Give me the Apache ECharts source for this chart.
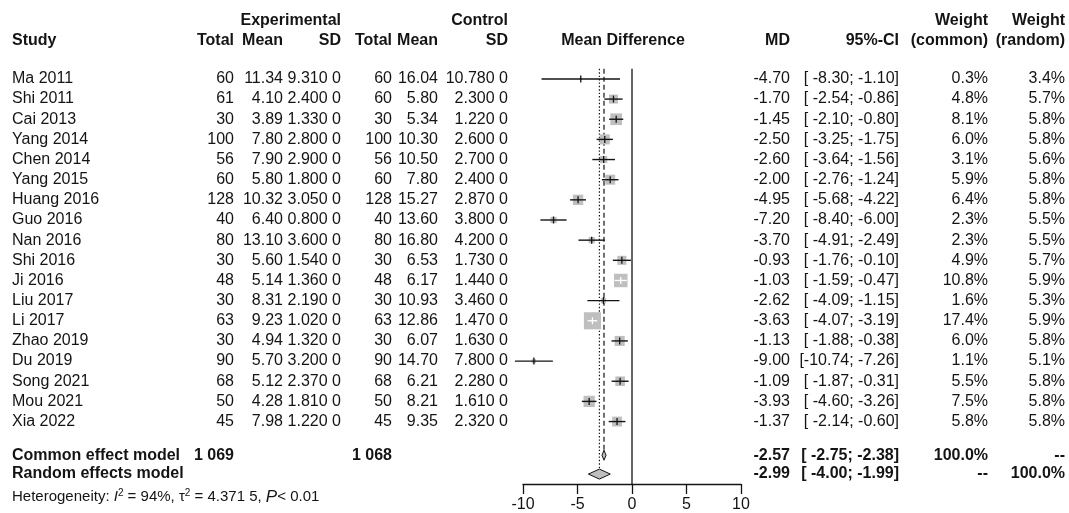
<!DOCTYPE html>
<html><head><meta charset="utf-8">
<script src="https://cdn.jsdelivr.net/npm/echarts@6/dist/echarts.min.js"></script>
<style>html,body{margin:0;padding:0;background:#fff}#c{width:1069px;height:513px}</style>
</head><body><div id="c"></div>
<script>
// ---------------- data ----------------
const studies = ['Ma 2011','Shi 2011','Cai 2013','Yang 2014','Chen 2014','Yang 2015','Huang 2016','Guo 2016','Nan 2016','Shi 2016','Ji 2016','Liu 2017','Li 2017','Zhao 2019','Du 2019','Song 2021','Mou 2021','Xia 2022'];
const expTotal = [60,61,30,100,56,60,128,40,80,30,48,30,63,30,90,68,50,45];
const expMean = [11.34,4.10,3.89,7.80,7.90,5.80,10.32,6.40,13.10,5.60,5.14,8.31,9.23,4.94,5.70,5.12,4.28,7.98];
const expSD = [9.31,2.40,1.33,2.80,2.90,1.80,3.05,0.80,3.60,1.54,1.36,2.19,1.02,1.32,3.20,2.37,1.81,1.22];
const ctlTotal = [60,60,30,100,56,60,128,40,80,30,48,30,63,30,90,68,50,45];
const ctlMean = [16.04,5.80,5.34,10.30,10.50,7.80,15.27,13.60,16.80,6.53,6.17,10.93,12.86,6.07,14.70,6.21,8.21,9.35];
const ctlSD = [10.78,2.30,1.22,2.60,2.70,2.40,2.87,3.80,4.20,1.73,1.44,3.46,1.47,1.63,7.80,2.28,1.61,2.32];
const md = [-4.70,-1.70,-1.45,-2.50,-2.60,-2.00,-4.95,-7.20,-3.70,-0.93,-1.03,-2.62,-3.63,-1.13,-9.00,-1.09,-3.93,-1.37];
const ciLow = [-8.30,-2.54,-2.10,-3.25,-3.64,-2.76,-5.68,-8.40,-4.91,-1.76,-1.59,-4.09,-4.07,-1.88,-10.74,-1.87,-4.60,-2.14];
const ciHigh = [-1.10,-0.86,-0.80,-1.75,-1.56,-1.24,-4.22,-6.00,-2.49,-0.10,-0.47,-1.15,-3.19,-0.38,-7.26,-0.31,-3.26,-0.60];
const wCommon = [0.3,4.8,8.1,6.0,3.1,5.9,6.4,2.3,2.3,4.9,10.8,1.6,17.4,6.0,1.1,5.5,7.5,5.8];
const wRandom = [3.4,5.7,5.8,5.8,5.6,5.8,5.8,5.5,5.5,5.7,5.9,5.3,5.9,5.8,5.1,5.8,5.8,5.8];
const summaryLabels = ['Common effect model','Random effects model'];
const summaryMD = [-2.57,-2.99];
const summaryLow = [-2.75,-4.00];
const summaryHigh = [-2.38,-1.99];
const summaryWCommon = [100.0, null];
const summaryWRandom = [null, 100.0];
const summaryTotalExp = [1069, null];
const summaryTotalCtl = [1068, null];
const xTicks = [-10,-5,0,5,10];
const hetI2 = 94, hetTau2 = 4.3715, hetP = '< 0.01';

// ---------------- layout ----------------
const FONT = '"Liberation Sans", Arial, sans-serif';
const FS = 16, FS_HET = 15;
const INK = '#141414';
const ROW0 = 79, ROWH = 20.3, AXIS_Y = 487;
const YMIN = -0.5, YMAX = (AXIS_Y - ROW0) / ROWH;
const SUMMARY_POS = [(458 - ROW0) / ROWH, (477 - ROW0) / ROWH];
const COL = {study: 12, eTot: 234, eMean: 283, eSD: 341, cTot: 392, cMean: 438, cSD: 508, md: 790, ci: 899, wc: 988, wr: 1065};
const BOX_K = 4.1;

const f2 = v => v.toFixed(2);
const fSD = v => { const s = v.toFixed(4); return s.slice(0, -1) + ' ' + s.slice(-1); };
const fInt = n => String(n).replace(/\B(?=(\d{3})+(?!\d))/g, ' ');
const padL = (s, n) => (s.length < n ? ' '.repeat(n - s.length) : '') + s;
const fCI = (lo, hi) => '[' + padL(f2(lo), 6) + '; ' + f2(hi) + ']';
const fW = v => v == null ? '--' : v.toFixed(1) + '%';

function T(x, y, s, align, bold, size) {
  return {type: 'text', x: x, y: y, style: {text: s, fill: INK, fontSize: size || FS, fontFamily: FONT,
    fontWeight: bold ? 'bold' : 'normal', align: align, verticalAlign: 'middle'}};
}

const rowIdx = studies.map((s, i) => i);

const chart = echarts.init(document.getElementById('c'), null, {renderer: 'canvas'});

const option = {
  animation: false,
  backgroundColor: '#fff',
  grid: {left: 523, right: 1069 - 741, top: ROW0 + YMIN * ROWH, bottom: 513 - AXIS_Y},
  xAxis: {
    type: 'value', min: xTicks[0], max: xTicks[xTicks.length - 1], interval: 5,
    axisLine: {show: true, onZero: false, lineStyle: {color: INK, width: 1.3}},
    axisTick: {show: true, length: 10, lineStyle: {color: INK, width: 1.3}},
    axisLabel: {color: INK, fontSize: FS, fontFamily: FONT, margin: 13},
    splitLine: {show: false}
  },
  yAxis: {type: 'value', inverse: true, min: YMIN, max: YMAX, show: false},
  graphic: [
    T(COL.eSD, 21, 'Experimental', 'right', true),
    T(COL.cSD, 21, 'Control', 'right', true),
    T(COL.wc, 21, 'Weight', 'right', true),
    T(COL.wr, 21, 'Weight', 'right', true),
    T(COL.study, 41, 'Study', 'left', true),
    T(COL.eTot, 41, 'Total', 'right', true),
    T(COL.eMean, 41, 'Mean', 'right', true),
    T(COL.eSD, 41, 'SD', 'right', true),
    T(COL.cTot, 41, 'Total', 'right', true),
    T(COL.cMean, 41, 'Mean', 'right', true),
    T(COL.cSD, 41, 'SD', 'right', true),
    T(623, 41, 'Mean Difference', 'center', true),
    T(COL.md, 41, 'MD', 'right', true),
    T(COL.ci, 41, '95%-CI', 'right', true),
    T(COL.wc, 41, '(common)', 'right', true),
    T(COL.wr, 41, '(random)', 'right', true),
    {type: 'text', x: COL.study, y: 497, style: {
      text: '{n|Heterogeneity: }{i|I}{s|2}{n| = ' + hetI2 + '%, τ}{s|2}{n| = ' + fSD(hetTau2) + ', }{p|P}{n|< ' + hetP.replace('< ', '') + '}',
      fill: INK, fontSize: FS_HET, fontFamily: FONT, align: 'left', verticalAlign: 'middle',
      rich: {
        n: {fontSize: FS_HET, fontFamily: FONT, fill: INK, lineHeight: 18},
        i: {fontSize: FS_HET, fontFamily: FONT, fontStyle: 'italic', fill: INK, lineHeight: 18},
        p: {fontSize: FS_HET + 2, fontFamily: FONT, fontStyle: 'italic', fill: INK, lineHeight: 18},
        s: {fontSize: 10, fontFamily: FONT, fill: INK, lineHeight: 10, verticalAlign: 'top'}
      }
    }}
  ],
  series: [
    // reference lines
    {
      type: 'custom', silent: true, clip: false, data: [0], z: 1,
      renderItem: function (params, api) {
        const top = api.coord([0, YMIN])[1];
        const z0 = api.coord([0, YMAX]);
        const c = api.coord([summaryMD[0], SUMMARY_POS[0]]);
        const r = api.coord([summaryMD[1], SUMMARY_POS[1]]);
        return {type: 'group', children: [
          {type: 'line', shape: {x1: z0[0], y1: top, x2: z0[0], y2: z0[1]}, style: {stroke: INK, lineWidth: 1.3}},
          {type: 'line', shape: {x1: c[0], y1: top, x2: c[0], y2: c[1] - 5}, style: {stroke: INK, lineWidth: 1.2, lineDash: [5, 3]}},
          {type: 'line', shape: {x1: r[0], y1: top, x2: r[0], y2: r[1] - 5}, style: {stroke: INK, lineWidth: 1.2, lineDash: [1.4, 2]}}
        ]};
      }
    },
    // study boxes and CIs
    {
      type: 'custom', silent: true, clip: false, data: rowIdx, z: 3,
      renderItem: function (params, api) {
        const i = api.value(0);
        const p = api.coord([md[i], i]);
        const lo = api.coord([ciLow[i], i]);
        const hi = api.coord([ciHigh[i], i]);
        const s = BOX_K * Math.sqrt(wCommon[i]);
        const inside = lo[0] >= p[0] - s / 2 && hi[0] <= p[0] + s / 2;
        const col = inside ? '#ffffff' : INK;
        return {type: 'group', children: [
          {type: 'rect', shape: {x: p[0] - s / 2, y: p[1] - s / 2, width: s, height: s}, style: {fill: '#bfbfbf'}},
          {type: 'line', shape: {x1: lo[0], y1: p[1], x2: hi[0], y2: p[1]}, style: {stroke: col, lineWidth: 1.4}},
          {type: 'line', shape: {x1: p[0], y1: p[1] - 3.5, x2: p[0], y2: p[1] + 3.5}, style: {stroke: col, lineWidth: 1.3}}
        ]};
      }
    },
    // summary diamonds
    {
      type: 'custom', silent: true, clip: false, data: [0, 1], z: 3,
      renderItem: function (params, api) {
        const k = api.value(0);
        const pos = SUMMARY_POS[k];
        const p = api.coord([summaryMD[k], pos]);
        const lo = api.coord([summaryLow[k], pos]);
        const hi = api.coord([summaryHigh[k], pos]);
        return {type: 'polygon', shape: {points: [[lo[0], p[1]], [p[0], p[1] - 5], [hi[0], p[1]], [p[0], p[1] + 5]]},
          style: {fill: '#bfbfbf', stroke: INK, lineWidth: 1}};
      }
    },
    // study text rows
    {
      type: 'custom', silent: true, clip: false, data: rowIdx, z: 4,
      renderItem: function (params, api) {
        const i = api.value(0);
        const y = api.coord([0, i])[1];
        return {type: 'group', children: [
          T(COL.study, y, studies[i], 'left'),
          T(COL.eTot, y, String(expTotal[i]), 'right'),
          T(COL.eMean, y, f2(expMean[i]), 'right'),
          T(COL.eSD, y, fSD(expSD[i]), 'right'),
          T(COL.cTot, y, String(ctlTotal[i]), 'right'),
          T(COL.cMean, y, f2(ctlMean[i]), 'right'),
          T(COL.cSD, y, fSD(ctlSD[i]), 'right'),
          T(COL.md, y, f2(md[i]), 'right'),
          T(COL.ci, y, fCI(ciLow[i], ciHigh[i]), 'right'),
          T(COL.wc, y, fW(wCommon[i]), 'right'),
          T(COL.wr, y, fW(wRandom[i]), 'right')
        ]};
      }
    },
    // summary text rows
    {
      type: 'custom', silent: true, clip: false, data: [0, 1], z: 4,
      renderItem: function (params, api) {
        const k = api.value(0);
        const y = api.coord([0, SUMMARY_POS[k]])[1];
        const ch = [
          T(COL.study, y, summaryLabels[k], 'left', true),
          T(COL.md, y, f2(summaryMD[k]), 'right', true),
          T(COL.ci, y, fCI(summaryLow[k], summaryHigh[k]), 'right', true),
          T(COL.wc, y, fW(summaryWCommon[k]), 'right', true),
          T(COL.wr, y, fW(summaryWRandom[k]), 'right', true)
        ];
        if (summaryTotalExp[k] != null) ch.push(T(COL.eTot, y, fInt(summaryTotalExp[k]), 'right', true));
        if (summaryTotalCtl[k] != null) ch.push(T(COL.cTot, y, fInt(summaryTotalCtl[k]), 'right', true));
        return {type: 'group', children: ch};
      }
    }
  ]
};
chart.setOption(option);
</script>
</body></html>
